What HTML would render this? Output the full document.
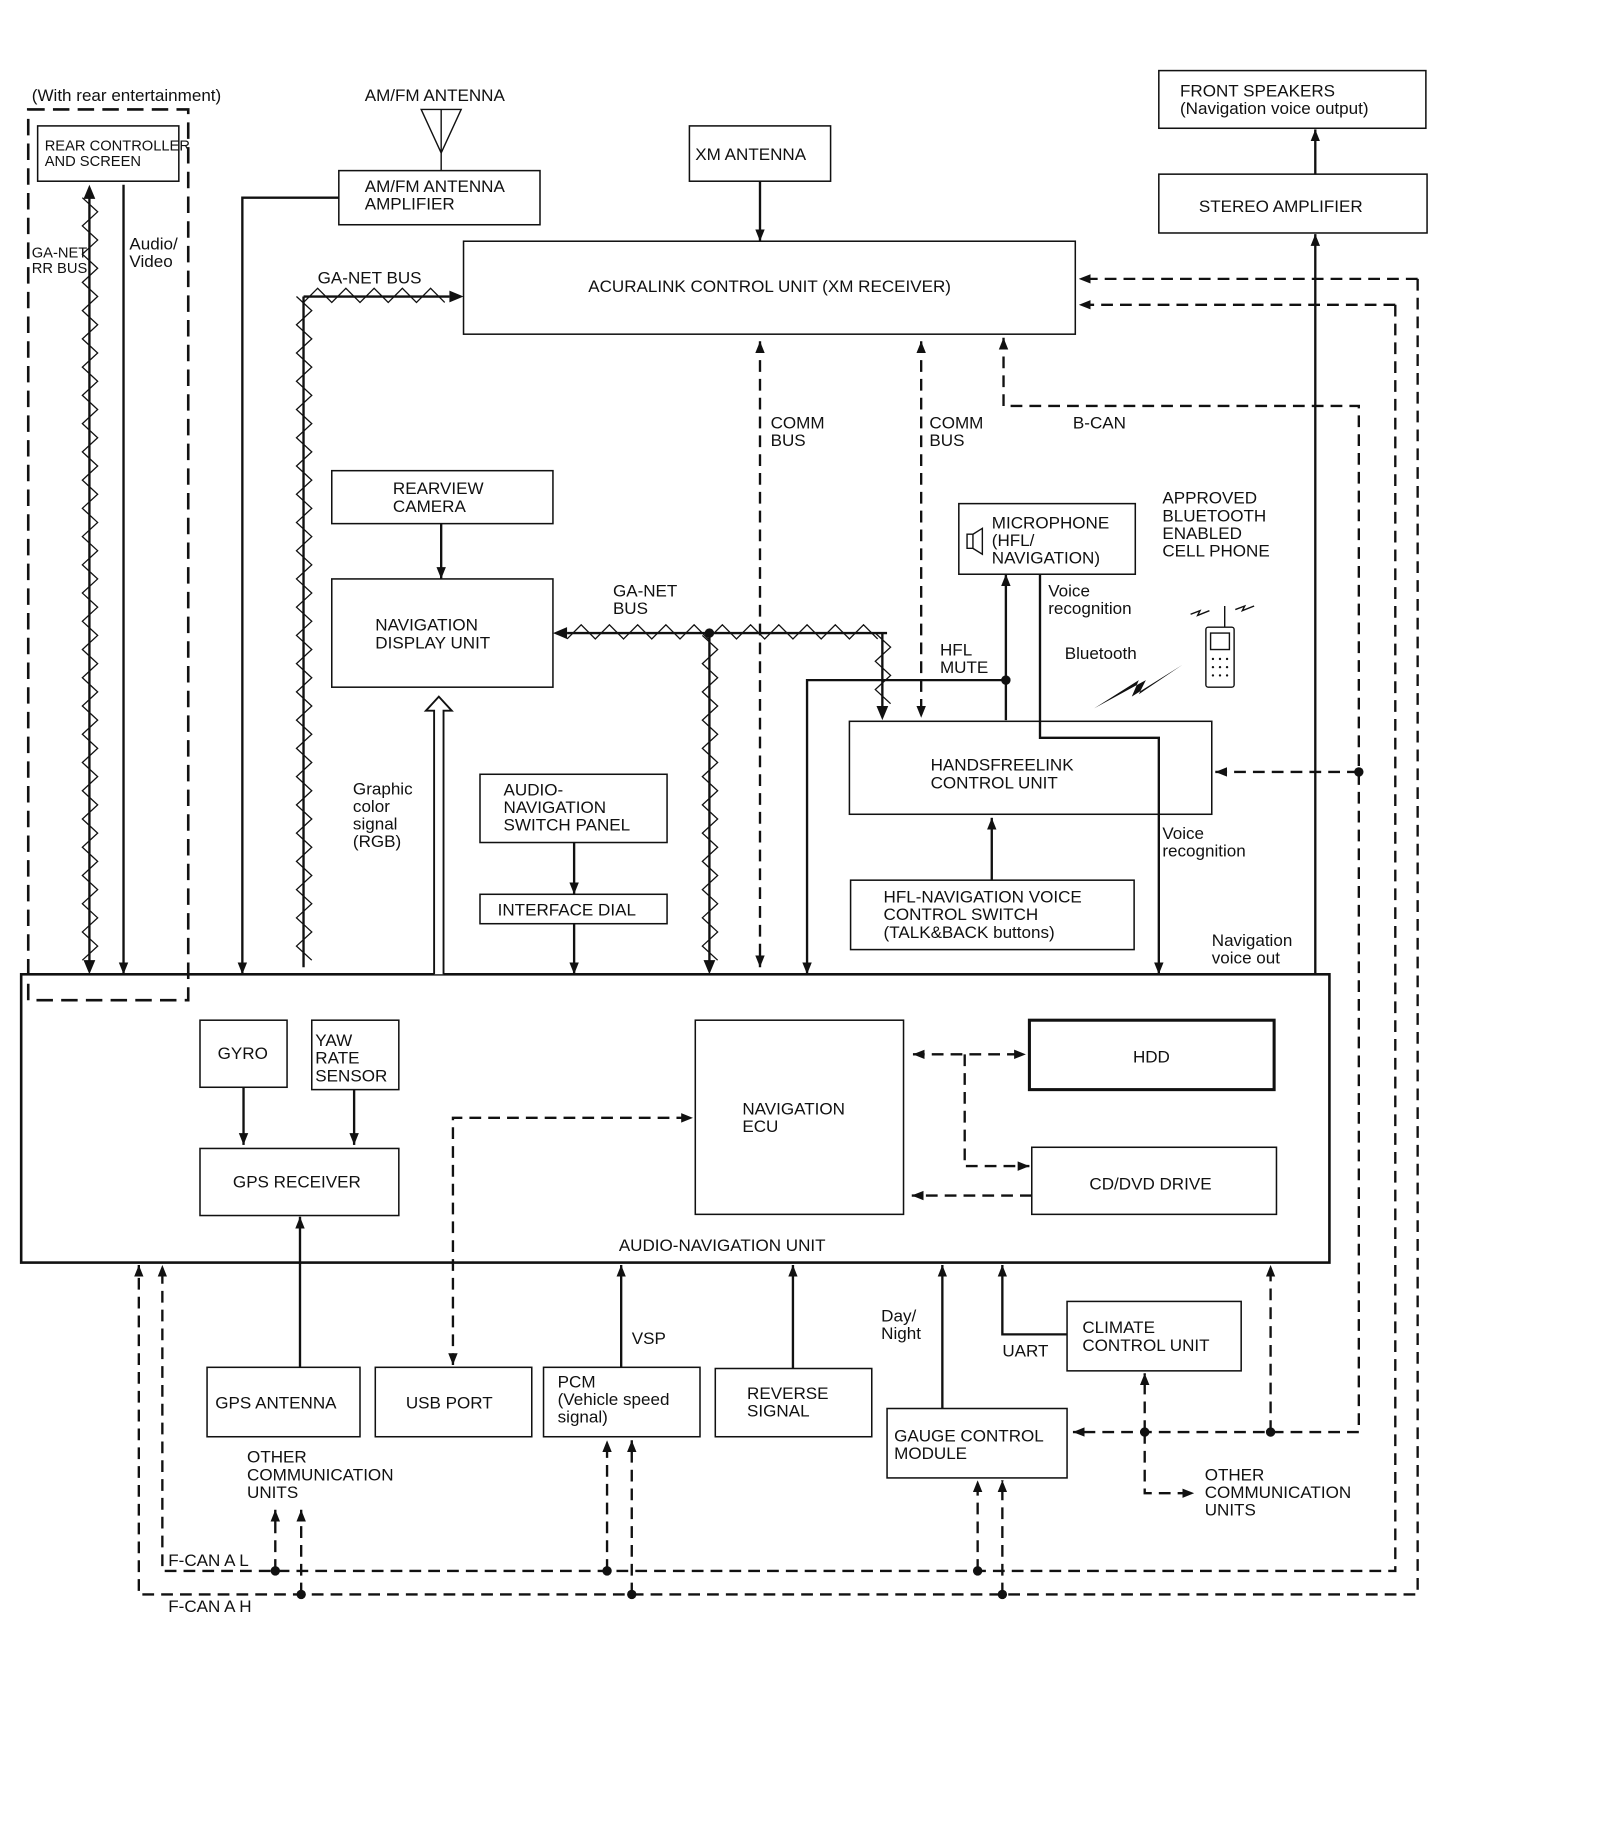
<!DOCTYPE html>
<html><head><meta charset="utf-8">
<style>
html,body{margin:0;padding:0;background:#fff;}
svg{display:block;}
text{font-family:"Liberation Sans",sans-serif;font-size:14.5px;fill:#111;}
.s{font-size:12.5px;}
</style></head><body>
<svg id="d" width="1600" height="1838" viewBox="0 0 1360 1562" preserveAspectRatio="none" xmlns="http://www.w3.org/2000/svg">
<defs>
<marker id="a" viewBox="0 0 10 10" refX="10" refY="5" markerWidth="10" markerHeight="10" markerUnits="userSpaceOnUse" orient="auto-start-reverse"><path d="M0,1 L10,5 L0,9 z" fill="#111"/></marker>
</defs>
<g fill="none" stroke="#111" stroke-width="1.3">
<rect x="24" y="93" width="136" height="757" stroke-width="2.2" stroke-dasharray="14,7"/>
<rect x="32" y="107" width="120" height="47"/>
<rect x="288" y="145" width="171" height="46"/>
<rect x="586" y="107" width="120" height="47"/>
<rect x="394" y="205" width="520" height="79"/>
<rect x="282" y="400" width="188" height="45"/>
<rect x="282" y="492" width="188" height="92"/>
<rect x="408" y="658" width="159" height="58"/>
<rect x="408" y="760" width="159" height="25"/>
<rect x="815" y="428" width="150" height="60"/>
<rect x="722" y="613" width="308" height="79"/>
<rect x="723" y="748" width="241" height="59"/>
<rect x="985" y="60" width="227" height="49"/>
<rect x="985" y="148" width="228" height="50"/>
<rect x="18" y="828" width="1112" height="245" stroke-width="2.2"/>
<rect x="170" y="867" width="74" height="57"/>
<rect x="265" y="867" width="74" height="59"/>
<rect x="170" y="976" width="169" height="57"/>
<rect x="591" y="867" width="177" height="165"/>
<rect x="875" y="867" width="208" height="59" stroke-width="2.6"/>
<rect x="877" y="975" width="208" height="57"/>
<rect x="176" y="1162" width="130" height="59"/>
<rect x="319" y="1162" width="133" height="59"/>
<rect x="462" y="1162" width="133" height="59"/>
<rect x="608" y="1163" width="133" height="58"/>
<rect x="754" y="1197" width="153" height="59"/>
<rect x="907" y="1106" width="148" height="59"/>
</g>
<g fill="none" stroke="#111" stroke-width="2">
<path d="M105,157 V828" marker-end="url(#a)"/>
<path d="M358,93 H392 L375,130 Z" stroke-width="1.2"/>
<path d="M375,93 V145" stroke-width="1.2"/>
<path d="M288,168 H206 V828" marker-end="url(#a)"/>
<path d="M646,154 V205" marker-end="url(#a)"/>
<path d="M375,445 V492" marker-end="url(#a)"/>
<path d="M488,716 V760" marker-end="url(#a)"/>
<path d="M488,785 V828" marker-end="url(#a)"/>
<path d="M855,612 V488" marker-end="url(#a)"/>
<path d="M855,578 H686 V828" marker-end="url(#a)"/>
<path d="M884,488 V627 H985 V828" marker-end="url(#a)"/>
<path d="M843,748 V695" marker-end="url(#a)"/>
<path d="M1118,148 V110" marker-end="url(#a)"/>
<path d="M1118,828 V199" marker-end="url(#a)"/>
<path d="M207,924 V973" marker-end="url(#a)"/>
<path d="M301,926 V973" marker-end="url(#a)"/>
<path d="M255,1162 V1034" marker-end="url(#a)"/>
<path d="M528,1162 V1075" marker-end="url(#a)"/>
<path d="M674,1163 V1075" marker-end="url(#a)"/>
<path d="M801,1197 V1075" marker-end="url(#a)"/>
<path d="M907,1134 H852 V1075" marker-end="url(#a)"/>
<path d="M369,828 V604 H362 L373,592 L384,604 H377 V828" stroke-width="1.6" fill="#fff"/>
</g>
<g fill="none" stroke="#111" stroke-width="2" stroke-dasharray="10,6">
<path d="M646,290 V822" marker-start="url(#a)" marker-end="url(#a)"/>
<path d="M783,290 V610" marker-start="url(#a)" marker-end="url(#a)"/>
<path d="M853,287 V345 H1155 V1217 H912" marker-start="url(#a)" marker-end="url(#a)"/>
<path d="M1155,656 H1033" marker-end="url(#a)"/>
<path d="M1205,237 V1355 H118 V1075" marker-end="url(#a)"/>
<path d="M1205,237 H917" marker-end="url(#a)"/>
<path d="M1186,259 V1335 H138 V1075" marker-end="url(#a)"/>
<path d="M1186,259 H917" marker-end="url(#a)"/>
<path d="M234,1335 V1283" marker-end="url(#a)"/>
<path d="M256,1355 V1283" marker-end="url(#a)"/>
<path d="M516,1335 V1224" marker-end="url(#a)"/>
<path d="M537,1355 V1224" marker-end="url(#a)"/>
<path d="M831,1335 V1258" marker-end="url(#a)"/>
<path d="M852,1355 V1258" marker-end="url(#a)"/>
<path d="M1080,1217 V1075" marker-end="url(#a)"/>
<path d="M973,1217 V1167" marker-end="url(#a)"/>
<path d="M973,1217 V1269 H1015" marker-end="url(#a)"/>
<path d="M776,896 H872" marker-start="url(#a)" marker-end="url(#a)"/>
<path d="M820,896 V991 H875" marker-end="url(#a)"/>
<path d="M877,1016 H775" marker-end="url(#a)"/>
<path d="M385,1160 V950 H589" marker-start="url(#a)" marker-end="url(#a)"/>
</g>
<g fill="#111">
<circle cx="855" cy="578" r="4"/><circle cx="603" cy="538" r="4"/>
<circle cx="1155" cy="656" r="4"/><circle cx="1080" cy="1217" r="4"/><circle cx="973" cy="1217" r="4"/>
<circle cx="234" cy="1335" r="4"/><circle cx="256" cy="1355" r="4"/>
<circle cx="516" cy="1335" r="4"/><circle cx="537" cy="1355" r="4"/>
<circle cx="831" cy="1335" r="4"/><circle cx="852" cy="1355" r="4"/>
</g>
<g id="zz" fill="none" stroke="#111"></g>
<path d="M822,454 h5 v12 h-5 z M827,454 l8,-5 v22 l-8,-5" fill="none" stroke="#111" stroke-width="1.2"/>
<path d="M930,602 L968,578 L962,592 L1005,565 L968,590 L974,578 Z" fill="#111"/>
<g fill="none" stroke="#111" stroke-width="1.2">
<rect x="1025" y="533" width="24" height="51" rx="2"/><rect x="1029" y="538" width="16" height="14"/>
<path d="M1041,533 V515 M1012,522 l8,-3 l-2,4 l10,-4 M1050,518 l8,-3 l-2,4 l10,-4"/>
</g>
<g fill="#111">
<circle cx="1031" cy="560" r="1"/><circle cx="1037" cy="560" r="1"/><circle cx="1043" cy="560" r="1"/>
<circle cx="1031" cy="567" r="1"/><circle cx="1037" cy="567" r="1"/><circle cx="1043" cy="567" r="1"/>
<circle cx="1031" cy="574" r="1"/><circle cx="1037" cy="574" r="1"/><circle cx="1043" cy="574" r="1"/>
</g>
<text x="27" y="86">(With rear entertainment)</text>
<text class="s" x="38" y="128">REAR CONTROLLER</text><text class="s" x="38" y="141">AND SCREEN</text>
<text class="s" x="27" y="219">GA-NET</text><text class="s" x="27" y="232">RR BUS</text>
<text x="110" y="212">Audio/</text><text x="110" y="227">Video</text>
<text x="310" y="86">AM/FM ANTENNA</text>
<text x="310" y="163">AM/FM ANTENNA</text><text x="310" y="178">AMPLIFIER</text>
<text x="591" y="136">XM ANTENNA</text>
<text x="500" y="248">ACURALINK CONTROL UNIT (XM RECEIVER)</text>
<text x="270" y="241">GA-NET BUS</text>
<text x="655" y="364">COMM</text><text x="655" y="379">BUS</text>
<text x="790" y="364">COMM</text><text x="790" y="379">BUS</text>
<text x="912" y="364">B-CAN</text>
<text x="334" y="420">REARVIEW</text><text x="334" y="435">CAMERA</text>
<text x="319" y="536">NAVIGATION</text><text x="319" y="551">DISPLAY UNIT</text>
<text x="521" y="507">GA-NET</text><text x="521" y="522">BUS</text>
<text x="300" y="675">Graphic</text><text x="300" y="690">color</text><text x="300" y="705">signal</text><text x="300" y="720">(RGB)</text>
<text x="428" y="676">AUDIO-</text><text x="428" y="691">NAVIGATION</text><text x="428" y="706">SWITCH PANEL</text>
<text x="423" y="778">INTERFACE DIAL</text>
<text x="843" y="449">MICROPHONE</text><text x="843" y="464">(HFL/</text><text x="843" y="479">NAVIGATION)</text>
<text x="988" y="428">APPROVED</text><text x="988" y="443">BLUETOOTH</text><text x="988" y="458">ENABLED</text><text x="988" y="473">CELL PHONE</text>
<text x="891" y="507">Voice</text><text x="891" y="522">recognition</text>
<text x="905" y="560">Bluetooth</text>
<text x="799" y="557">HFL</text><text x="799" y="572">MUTE</text>
<text x="791" y="655">HANDSFREELINK</text><text x="791" y="670">CONTROL UNIT</text>
<text x="988" y="713">Voice</text><text x="988" y="728">recognition</text>
<text x="751" y="767">HFL-NAVIGATION VOICE</text><text x="751" y="782">CONTROL SWITCH</text><text x="751" y="797">(TALK&amp;BACK buttons)</text>
<text x="1003" y="82">FRONT SPEAKERS</text><text x="1003" y="97">(Navigation voice output)</text>
<text x="1019" y="180">STEREO AMPLIFIER</text>
<text x="1030" y="804">Navigation</text><text x="1030" y="819">voice out</text>
<text x="185" y="900">GYRO</text>
<text x="268" y="889">YAW</text><text x="268" y="904">RATE</text><text x="268" y="919">SENSOR</text>
<text x="198" y="1009">GPS RECEIVER</text>
<text x="631" y="947">NAVIGATION</text><text x="631" y="962">ECU</text>
<text x="963" y="903">HDD</text>
<text x="926" y="1011">CD/DVD DRIVE</text>
<text x="526" y="1063">AUDIO-NAVIGATION UNIT</text>
<text x="183" y="1197">GPS ANTENNA</text>
<text x="345" y="1197">USB PORT</text>
<text x="474" y="1179">PCM</text><text x="474" y="1194">(Vehicle speed</text><text x="474" y="1209">signal)</text>
<text x="537" y="1142">VSP</text>
<text x="635" y="1189">REVERSE</text><text x="635" y="1204">SIGNAL</text>
<text x="749" y="1123">Day/</text><text x="749" y="1138">Night</text>
<text x="760" y="1225">GAUGE CONTROL</text><text x="760" y="1240">MODULE</text>
<text x="852" y="1153">UART</text>
<text x="920" y="1133">CLIMATE</text><text x="920" y="1148">CONTROL UNIT</text>
<text x="1024" y="1258">OTHER</text><text x="1024" y="1273">COMMUNICATION</text><text x="1024" y="1288">UNITS</text>
<text x="210" y="1243">OTHER</text><text x="210" y="1258">COMMUNICATION</text><text x="210" y="1273">UNITS</text>
<text x="143" y="1331">F-CAN A L</text>
<text x="143" y="1370">F-CAN A H</text>
</svg>
<script>
(function(){
var g=document.getElementById('zz'),NS='http://www.w3.org/2000/svg';
function add(d,w){var p=document.createElementNS(NS,'path');p.setAttribute('d',d);p.setAttribute('stroke-width',w);g.appendChild(p);}
function vz(x,y1,y2){var d='M'+(x-6)+','+y1,s=1,step=12;for(var y=y1+step;y<=y2;y+=step){d+=' L'+(x+(s?7:-6))+','+y;s=!s;}add(d,1.1);add('M'+x+','+y1+' V'+y2,2);}
function hz(y,x1,x2){var d='M'+x1+','+(y+5),s=1,step=12;for(var x=x1+step;x<=x2;x+=step){d+=' L'+x+','+(y+(s?-7:5));s=!s;}add(d,1.1);add('M'+x1+','+y+' H'+x2,2);}
vz(76,168,818);vz(258,252,822);hz(252,258,382);
vz(603,540,818);hz(538,482,754);vz(750,538,600);
function arr(x,y,dir){var p=document.createElementNS(NS,'path');var d;
if(dir=='u')d='M'+x+','+y+' l-5,12 h10 z';if(dir=='d')d='M'+x+','+y+' l-5,-12 h10 z';
if(dir=='r')d='M'+x+','+y+' l-12,-5 v10 z';if(dir=='l')d='M'+x+','+y+' l12,-5 v10 z';
p.setAttribute('d',d);p.setAttribute('fill','#111');p.setAttribute('stroke','none');g.appendChild(p);}
arr(76,157,'u');arr(76,828,'d');arr(394,252,'r');arr(470,538,'l');arr(750,612,'d');arr(603,828,'d');
})();
</script>
</body></html>
